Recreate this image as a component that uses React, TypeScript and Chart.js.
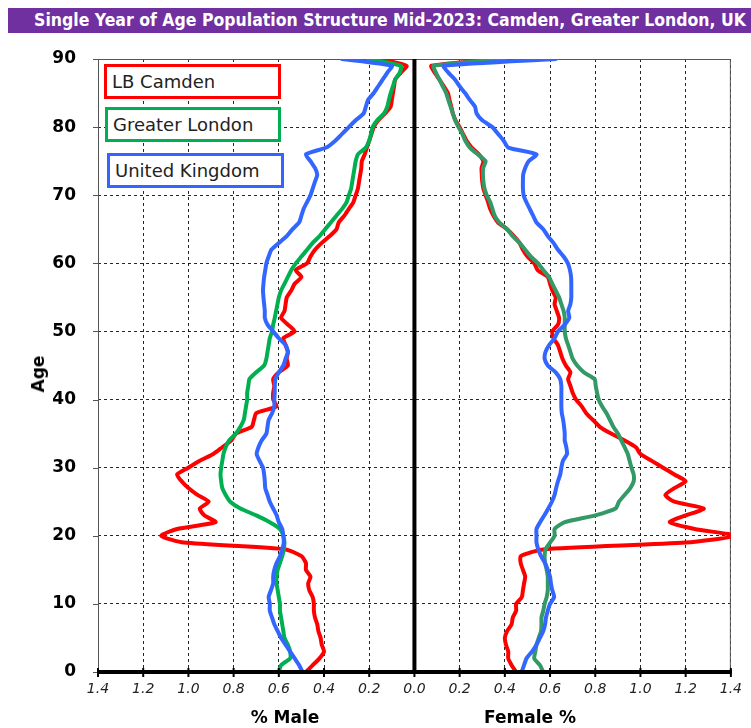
import React, { useEffect, useRef } from "react";
import { Chart, registerables } from "chart.js";

Chart.register(...registerables);

const TITLE = "Single Year of Age Population Structure Mid-2023: Camden, Greater London, UK";
const SERIES_NAMES = ["LB Camden", "Greater London", "United Kingdom"];
const X_TITLE_MALE = "% Male";
const X_TITLE_FEMALE = "Female %";
const Y_TITLE = "Age";

// ages 0..90 (90 = 90+)
const ages = Array.from({ length: 91 }, (_, i) => i);
const xTickValues = [-1.4, -1.2, -1.0, -0.8, -0.6, -0.4, -0.2, 0, 0.2, 0.4, 0.6, 0.8, 1.0, 1.2, 1.4];

// % of population, male side
const maleCamden = [
  0.48, 0.45, 0.42, 0.40, 0.41, 0.415, 0.425, 0.43, 0.44, 0.445,
  0.445, 0.45, 0.465, 0.47, 0.46, 0.48, 0.48, 0.50, 0.57, 1.02,
  1.12, 1.05, 0.88, 0.93, 0.95, 0.91, 0.96, 1.00, 1.03, 1.05,
  1.00, 0.95, 0.89, 0.85, 0.81, 0.79, 0.72, 0.71, 0.70, 0.61,
  0.625, 0.625, 0.62, 0.625, 0.60, 0.56, 0.565, 0.56, 0.57, 0.58,
  0.53, 0.56, 0.59, 0.575, 0.57, 0.565, 0.545, 0.53, 0.50, 0.525,
  0.475, 0.46, 0.44, 0.41, 0.375, 0.345, 0.335, 0.31, 0.29, 0.27,
  0.26, 0.25, 0.245, 0.24, 0.235, 0.233, 0.22, 0.21, 0.20, 0.19,
  0.18, 0.16, 0.13, 0.105, 0.10, 0.095, 0.09, 0.085, 0.06, 0.035,
  0.15,
];
const maleLondon = [
  0.60, 0.59, 0.55, 0.55, 0.56, 0.575, 0.58, 0.585, 0.59, 0.595,
  0.595, 0.60, 0.605, 0.61, 0.61, 0.605, 0.595, 0.585, 0.578, 0.575,
  0.58, 0.595, 0.64, 0.70, 0.77, 0.815, 0.835, 0.85, 0.855, 0.858,
  0.855, 0.85, 0.845, 0.835, 0.82, 0.79, 0.77, 0.755, 0.75, 0.745,
  0.74, 0.74, 0.735, 0.73, 0.70, 0.665, 0.655, 0.65, 0.645, 0.64,
  0.63, 0.625, 0.618, 0.612, 0.606, 0.60, 0.59, 0.575, 0.56, 0.545,
  0.525, 0.50, 0.475, 0.45, 0.42, 0.395, 0.37, 0.345, 0.32, 0.30,
  0.29, 0.28, 0.275, 0.27, 0.265, 0.26, 0.25, 0.215, 0.20, 0.192,
  0.185, 0.165, 0.135, 0.12, 0.113, 0.105, 0.095, 0.085, 0.065, 0.06,
  0.205,
];
const maleUK = [
  0.495, 0.51, 0.53, 0.55, 0.57, 0.59, 0.605, 0.62, 0.63, 0.64,
  0.64, 0.645, 0.635, 0.625, 0.625, 0.62, 0.61, 0.595, 0.585, 0.578,
  0.58, 0.585, 0.60, 0.61, 0.625, 0.64, 0.65, 0.66, 0.662, 0.665,
  0.67, 0.685, 0.698, 0.69, 0.676, 0.655, 0.65, 0.645, 0.63, 0.62,
  0.62, 0.618, 0.618, 0.615, 0.60, 0.58, 0.57, 0.56, 0.57, 0.60,
  0.625, 0.65, 0.662, 0.662, 0.665, 0.668, 0.67, 0.668, 0.665, 0.66,
  0.655, 0.645, 0.633, 0.60, 0.565, 0.54, 0.51, 0.50, 0.49, 0.475,
  0.46, 0.45, 0.44, 0.43, 0.44, 0.46, 0.48, 0.39, 0.35, 0.32,
  0.29, 0.26, 0.225, 0.215, 0.205, 0.18, 0.16, 0.14, 0.12, 0.10,
  0.32,
];

// % of population, female side
const femaleCamden = [
  0.45, 0.43, 0.415, 0.415, 0.405, 0.40, 0.41, 0.43, 0.435, 0.45,
  0.45, 0.475, 0.48, 0.485, 0.49, 0.48, 0.47, 0.47, 0.57, 1.20,
  1.42, 1.24, 1.13, 1.20, 1.28, 1.15, 1.11, 1.15, 1.20, 1.15,
  1.10, 1.05, 1.00, 0.98, 0.93, 0.87, 0.82, 0.79, 0.76, 0.74,
  0.715, 0.70, 0.69, 0.68, 0.69, 0.67, 0.655, 0.645, 0.635, 0.615,
  0.61, 0.635, 0.64, 0.63, 0.62, 0.625, 0.61, 0.60, 0.59, 0.545,
  0.53, 0.50, 0.48, 0.465, 0.44, 0.41, 0.37, 0.35, 0.335, 0.326,
  0.315, 0.305, 0.30, 0.298, 0.297, 0.305, 0.285, 0.253, 0.231, 0.215,
  0.20, 0.182, 0.17, 0.163, 0.155, 0.148, 0.13, 0.11, 0.09, 0.075,
  0.38,
];
const femaleLondon = [
  0.57, 0.555, 0.53, 0.535, 0.54, 0.55, 0.56, 0.562, 0.562, 0.57,
  0.576, 0.585, 0.59, 0.59, 0.59, 0.585, 0.578, 0.576, 0.58, 0.60,
  0.62, 0.62, 0.665, 0.80, 0.89, 0.905, 0.93, 0.955, 0.97, 0.97,
  0.96, 0.952, 0.944, 0.93, 0.915, 0.90, 0.88, 0.865, 0.85, 0.83,
  0.815, 0.808, 0.802, 0.797, 0.75, 0.72, 0.70, 0.69, 0.68, 0.67,
  0.665, 0.665, 0.665, 0.66, 0.65, 0.64, 0.625, 0.61, 0.595, 0.57,
  0.547, 0.515, 0.49, 0.465, 0.435, 0.41, 0.375, 0.355, 0.345, 0.335,
  0.32, 0.31, 0.305, 0.303, 0.304, 0.315, 0.28, 0.245, 0.225, 0.212,
  0.195, 0.18, 0.17, 0.16, 0.15, 0.14, 0.125, 0.11, 0.095, 0.085,
  0.40,
];
const femaleUK = [
  0.474, 0.485, 0.496, 0.52, 0.54, 0.555, 0.57, 0.578, 0.582, 0.59,
  0.60, 0.618, 0.61, 0.604, 0.60, 0.59, 0.578, 0.56, 0.548, 0.54,
  0.54, 0.54, 0.556, 0.575, 0.592, 0.608, 0.62, 0.627, 0.635, 0.645,
  0.65, 0.657, 0.675, 0.672, 0.665, 0.665, 0.662, 0.658, 0.652, 0.65,
  0.65, 0.65, 0.65, 0.645, 0.625, 0.59, 0.576, 0.58, 0.596, 0.62,
  0.635, 0.665, 0.685, 0.68, 0.69, 0.694, 0.694, 0.694, 0.693, 0.688,
  0.679, 0.66, 0.635, 0.615, 0.59, 0.57, 0.54, 0.525, 0.51, 0.495,
  0.483, 0.48, 0.48, 0.481, 0.49, 0.505, 0.54, 0.415, 0.395, 0.37,
  0.345, 0.30, 0.275, 0.268, 0.245, 0.224, 0.20, 0.179, 0.15, 0.13,
  0.626,
];

const RED = "#FF0000";
const GREEN_M = "#00B050";
const GREEN_F = "#339966";
const BLUE = "#3366FF";
const LEGEND_COLORS = [RED, "#00B050", BLUE];

const FONT = "'DejaVu Sans', Verdana, sans-serif";

function pts(vals: number[], sign: number) {
  return vals.map((v, i) => ({ x: sign * v, y: ages[i] }));
}

const framePlugin = {
  id: "pyramidFrame",
  beforeDatasetsDraw(chart: any) {
    const { ctx, chartArea, scales } = chart;
    const { left, right, top, bottom } = chartArea;
    ctx.save();
    ctx.setLineDash([]);
    ctx.strokeStyle = "#555";
    ctx.lineWidth = 1;
    ctx.strokeRect(left + 0.5, top + 0.5, right - left - 1, bottom - top);
    scales.y.ticks.forEach((t: any) => {
      const yy = Math.round(scales.y.getPixelForValue(t.value)) + 0.5;
      ctx.beginPath();
      ctx.moveTo(left - 5, yy);
      ctx.lineTo(left, yy);
      ctx.stroke();
    });
    const x0 = scales.x.getPixelForValue(0);
    ctx.strokeStyle = "#000";
    ctx.lineWidth = 4;
    ctx.beginPath();
    ctx.moveTo(x0, top);
    ctx.lineTo(x0, bottom);
    ctx.stroke();
    ctx.restore();
  },
  afterDatasetsDraw(chart: any) {
    const { ctx, chartArea, scales } = chart;
    const { left, right, bottom } = chartArea;
    ctx.save();
    ctx.setLineDash([]);
    ctx.strokeStyle = "#000";
    ctx.lineWidth = 4;
    ctx.beginPath();
    ctx.moveTo(left - 1, bottom);
    ctx.lineTo(right + 1, bottom);
    ctx.stroke();
    ctx.lineWidth = 2;
    scales.x.ticks.forEach((t: any) => {
      const xx = scales.x.getPixelForValue(t.value);
      ctx.beginPath();
      ctx.moveTo(xx, bottom - 4);
      ctx.lineTo(xx, bottom + 5);
      ctx.stroke();
    });
    ctx.restore();
  },
};

function PyramidChart() {
  const ref = useRef<HTMLCanvasElement | null>(null);
  useEffect(() => {
    if (!ref.current) return;
    const lineDs = (label: string, data: any[], color: string) => ({
      label,
      data,
      showLine: true,
      borderColor: color,
      backgroundColor: color,
      borderWidth: 4,
      pointRadius: 0,
      pointHoverRadius: 0,
      tension: 0.2,
      borderJoinStyle: "round" as const,
      borderCapStyle: "round" as const,
      fill: false,
    });
    const chart = new Chart(ref.current, {
      type: "scatter",
      data: {
        datasets: [
          lineDs("United Kingdom (M)", pts(maleUK, -1), BLUE),
          lineDs("United Kingdom (F)", pts(femaleUK, 1), BLUE),
          lineDs("Greater London (M)", pts(maleLondon, -1), GREEN_M),
          lineDs("Greater London (F)", pts(femaleLondon, 1), GREEN_F),
          lineDs("LB Camden (M)", pts(maleCamden, -1), RED),
          lineDs("LB Camden (F)", pts(femaleCamden, 1), RED),
        ],
      },
      options: {
        animation: false,
        responsive: false,
        events: [],
        layout: { padding: { left: 0, right: 18, top: 59, bottom: 0 } },
        plugins: { legend: { display: false }, tooltip: { enabled: false }, title: { display: false } },
        scales: {
          x: {
            type: "linear",
            min: -1.4,
            max: 1.4,
            afterFit: (s: any) => { s.height = 56; },
            afterBuildTicks: (s: any) => {
              s.ticks = xTickValues.map((v) => ({ value: v }));
            },
            ticks: {
              autoSkip: false,
              maxRotation: 0,
              minRotation: 0,
              padding: 9,
              color: "#222",
              font: { family: FONT, size: 14, style: "italic" },
              callback: (v: any) => Math.abs(Number(v)).toFixed(1),
            },
            grid: {
              drawTicks: false,
              lineWidth: 1,
              color: (c: any) => (Math.abs(c.tick?.value ?? 1) < 1e-9 ? "rgba(0,0,0,0)" : "rgba(0,0,0,0.85)"),
            },
            border: { display: false, dash: [3, 3] },
          },
          y: {
            type: "linear",
            min: 0,
            max: 90,
            afterFit: (s: any) => { s.width = 98; },
            ticks: {
              stepSize: 10,
              padding: 22,
              color: "#000",
              font: { family: FONT, size: 17, weight: "bold" },
            },
            grid: {
              drawTicks: false,
              lineWidth: 1,
              color: (c: any) => (c.tick?.value === 0 ? "rgba(0,0,0,0)" : "rgba(0,0,0,0.85)"),
            },
            border: { display: false, dash: [3, 3] },
          },
        },
      },
      plugins: [framePlugin],
    });
    return () => chart.destroy();
  }, []);
  return (
    <canvas
      ref={ref}
      width={751}
      height={728}
      style={{ position: "absolute", left: 0, top: 0, width: 751, height: 728 }}
    />
  );
}

export default function App() {
  const legendBoxes = [
    { left: 104, top: 64, width: 177, height: 35 },
    { left: 105, top: 107, width: 176, height: 35 },
    { left: 107, top: 153, width: 177, height: 35 },
  ];
  const axisTitle = {
    position: "absolute" as const,
    transform: "translate(-50%, -50%)",
    fontFamily: FONT,
    fontWeight: "bold" as const,
    fontSize: 17,
    whiteSpace: "nowrap" as const,
  };
  return (
    <div style={{ position: "absolute", left: 0, top: 0, width: 751, height: 728, background: "#fff", overflow: "hidden" }}>
      <PyramidChart />
      <div
        style={{
          position: "absolute",
          left: 8,
          top: 8,
          width: 743,
          height: 25,
          background: "#7030A0",
          color: "#fff",
          fontFamily: "'DejaVu Sans Condensed', 'DejaVu Sans', sans-serif",
          fontStretch: "condensed",
          fontWeight: "bold",
          fontSize: 17.5,
          lineHeight: "25px",
          textAlign: "right",
          paddingRight: 5,
          boxSizing: "border-box",
          whiteSpace: "nowrap",
        }}
      >
        {TITLE}
      </div>
      {SERIES_NAMES.map((name, i) => (
        <div
          key={name}
          style={{
            position: "absolute",
            ...legendBoxes[i],
            border: `3px solid ${LEGEND_COLORS[i]}`,
            boxSizing: "border-box",
            background: "#fff",
            fontFamily: FONT,
            fontSize: 18,
            color: "#222",
            lineHeight: "29px",
            paddingLeft: 5,
            whiteSpace: "nowrap",
          }}
        >
          {name}
        </div>
      ))}
      <div style={{ ...axisTitle, left: 38, top: 374, transform: "translate(-50%, -50%) rotate(-90deg)" }}>{Y_TITLE}</div>
      <div style={{ ...axisTitle, left: 285, top: 717 }}>{X_TITLE_MALE}</div>
      <div style={{ ...axisTitle, left: 530, top: 717 }}>{X_TITLE_FEMALE}</div>
    </div>
  );
}
